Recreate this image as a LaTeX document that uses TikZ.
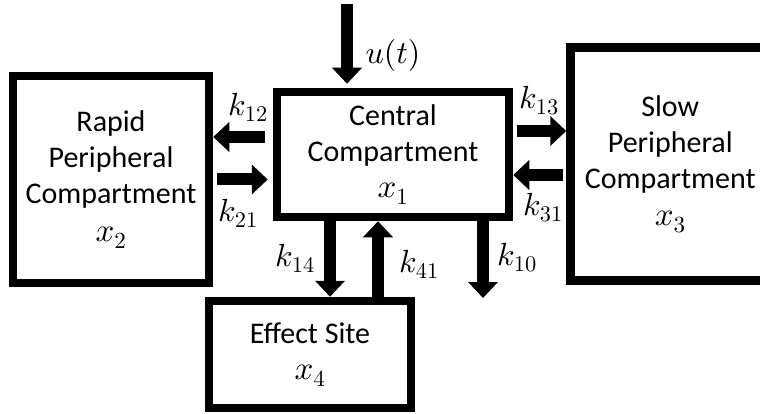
\documentclass[tikz,border=0pt]{standalone}
\usepackage{fontspec}
\setmainfont{Carlito}
\DeclareFontShape{OML}{cmm}{m}{it}{<->cmmi10}{}
\DeclareFontShape{OT1}{cmr}{m}{n}{<->cmr10}{}
\usetikzlibrary{arrows.meta}
\newcommand{\bigmath}[1]{{\fontsize{33}{36}\selectfont$#1$}}
\begin{document}
\begin{tikzpicture}[x=1pt,y=-1pt,
  comp/.style={draw=black,line width=8.5pt,align=center,inner sep=0pt,
    font=\fontsize{30}{36}\selectfont},
  flow/.style={line width=12pt,-{Triangle[length=16pt,width=29pt]}},
  rate/.style={font=\fontsize{32}{36}\selectfont,inner sep=0pt}]
\clip (0,0) rectangle (760,414);
\node[comp,minimum width=196pt,minimum height=207pt] (rapid) at (111,179.5)
  {Rapid\\Peripheral\\Compartment\\[2pt]\bigmath{x_2}};
\node[comp,minimum width=232pt,minimum height=125pt] (central) at (393,154.5)
  {Central\\Compartment\\[0pt]\bigmath{x_1}};
\node[comp,minimum width=199.5pt,minimum height=233pt] (slow) at (670.25,164)
  {Slow\\Peripheral\\Compartment\\[1pt]\bigmath{x_3}};
\node[comp,minimum width=202pt,minimum height=107pt] (effect) at (310,354.5)
  {Effect Site\\[0pt]\bigmath{x_4}};
\coordinate (utop) at (347,4);
\coordinate (k10end) at (483,298);
% connectors
\draw[flow] (utop) -- ([xshift=-46pt,yshift=4pt]central.north);
\draw[flow] ([xshift=-8pt,yshift=17.5pt]central.west) -- ([yshift=42.5pt]rapid.east);
\draw[flow] ([xshift=4pt]rapid.east) -- ([xshift=-5pt,yshift=-25pt]central.west);
\draw[flow] ([xshift=4pt,yshift=23.5pt]central.east) -- ([yshift=33pt]slow.west);
\draw[flow] ([xshift=-3pt,yshift=-11pt]slow.west) -- ([yshift=-20.5pt]central.east);
\draw[flow] ([xshift=-63pt]central.south) -- ([xshift=20pt]effect.north);
\draw[flow] ([xshift=68pt]effect.north) -- ([xshift=-15pt]central.south);
\draw[flow] ([xshift=90pt]central.south) -- (k10end);
% labels
\node[rate] (lu) at (393,56) {$u(t)$};
\node[rate] (l12) at (248,107) {$k_{12}$};
\node[rate] (l21) at (238,213) {$k_{21}$};
\node[rate] (l13) at (539,100) {$k_{13}$};
\node[rate] (l31) at (543,207) {$k_{31}$};
\node[rate] (l14) at (295,258) {$k_{14}$};
\node[rate] (l41) at (419,264) {$k_{41}$};
\node[rate] (l10) at (517,257) {$k_{10}$};
\end{tikzpicture}
\end{document}
